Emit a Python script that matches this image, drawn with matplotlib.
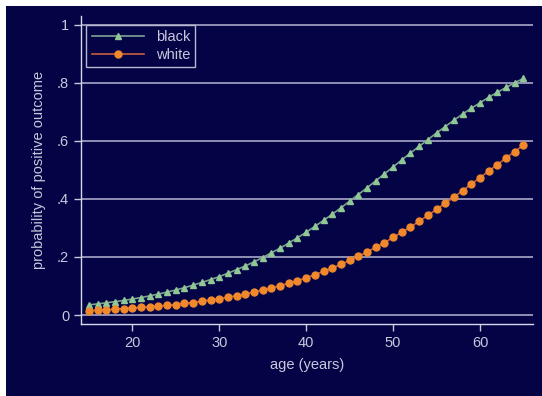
import numpy as np
import matplotlib
matplotlib.use("Agg")
from matplotlib import pyplot as plt
from matplotlib.patches import Rectangle

plt.rcParams['font.family'] = ['Liberation Sans', 'DejaVu Sans']

# predicted probabilities, ages 15..65
age = list(range(15, 66))
black = [0.035, 0.038, 0.042, 0.046, 0.050, 0.055, 0.060, 0.066, 0.072, 0.079,
         0.086, 0.094, 0.103, 0.112, 0.122, 0.132, 0.144, 0.156, 0.169, 0.183,
         0.198, 0.214, 0.230, 0.248, 0.266, 0.285, 0.305, 0.326, 0.347, 0.369,
         0.392, 0.415, 0.438, 0.462, 0.486, 0.510, 0.534, 0.558, 0.581, 0.604,
         0.627, 0.649, 0.671, 0.692, 0.712, 0.731, 0.750, 0.767, 0.784, 0.800,
         0.815]
white = [0.015, 0.017, 0.018, 0.020, 0.022, 0.024, 0.026, 0.028, 0.031, 0.033,
         0.036, 0.040, 0.043, 0.047, 0.052, 0.056, 0.061, 0.067, 0.072, 0.079,
         0.086, 0.093, 0.101, 0.109, 0.118, 0.128, 0.139, 0.150, 0.162, 0.174,
         0.188, 0.202, 0.217, 0.233, 0.249, 0.267, 0.285, 0.303, 0.323, 0.343,
         0.364, 0.385, 0.406, 0.428, 0.451, 0.473, 0.496, 0.518, 0.541, 0.563,
         0.585]

yticks = [0, 0.2, 0.4, 0.6, 0.8, 1]
ytick_labels = ["0", ".2", ".4", ".6", ".8", "1"]
xticks = [20, 30, 40, 50, 60]

navy = '#030346'
light = '#c8c8dc'
grid = '#a8a8c8'

fig = plt.figure(figsize=(5.42, 3.96), dpi=100, facecolor='white')
fig.patches.append(Rectangle((6/542, -0.1), 1.2, 1.1 - 6/396, transform=fig.transFigure,
                             facecolor=navy, edgecolor='none', zorder=-10))

ax = fig.add_axes([81/542, 72/396, 452/542, 308/396])
ax.set_facecolor(navy)

ax.plot(age, black, color='#7fa392', lw=1.2, marker='^', ms=5,
        mfc='#8fc894', mec='#8fc894', label='black', zorder=3)
ax.plot(age, white, color='#c8603c', lw=1.2, marker='o', ms=5,
        mfc='#f0882c', mec='#f0882c', label='white', zorder=3)

ax.set_xlim(14.1, 66.1)
ax.set_ylim(-0.031, 1.03)
ax.set_xticks(xticks)
ax.set_yticks(yticks)
ax.set_yticklabels(ytick_labels)

ax.grid(axis='y', color=grid, lw=1.2)
ax.set_axisbelow(True)
for s in ['top', 'right']:
    ax.spines[s].set_visible(False)
for s in ['left', 'bottom']:
    ax.spines[s].set_color('#d8d8ec')
    ax.spines[s].set_linewidth(1.0)
ax.tick_params(colors=light, labelcolor=light, labelsize=10.5, length=5, width=1)

ax.set_xlabel("age (years)", color=light, fontsize=10.5, labelpad=6)
ax.set_ylabel("probability of positive outcome", color=light, fontsize=10.5, labelpad=8)

leg = ax.legend(loc='upper left', bbox_to_anchor=(-0.004, 0.995), frameon=True,
                fancybox=False, facecolor=navy, edgecolor='#b8b8d0',
                labelcolor=light, fontsize=10.5, handlelength=3.6,
                borderpad=0.35, labelspacing=0.3, markerscale=1.0)
leg.get_frame().set_linewidth(1.0)
leg.get_frame().set_alpha(1)

fig.savefig("out.png", dpi=100, facecolor=fig.get_facecolor())
